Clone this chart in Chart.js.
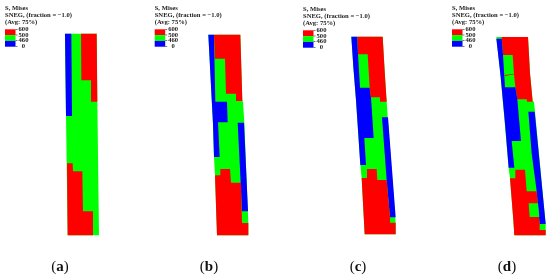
<!DOCTYPE html>
<html>
<head>
<meta charset="utf-8">
<title>S, Mises contour plots</title>
<script src="https://cdn.jsdelivr.net/npm/chart.js@4"></script>
<style>
    html, body { margin: 0; padding: 0; background: #fff; }
    #wrap { position: relative; width: 550px; height: 277px; overflow: hidden; }
    canvas { position: absolute; top: 0; filter: blur(0.35px); }
</style>
</head>
<body>
<div id="wrap">
    <canvas id="panelA" width="140" height="277" style="left:0"></canvas>
    <canvas id="panelB" width="140" height="277" style="left:140px"></canvas>
    <canvas id="panelC" width="140" height="277" style="left:280px"></canvas>
    <canvas id="panelD" width="140" height="277" style="left:410px"></canvas>
</div>
<script>
'use strict';

// подписи легенды
const headerLines = ['S, Mises', 'SNEG, (fraction = \u22121.0)', '(Avg: 75%)'];
const legendValues = ['600', '500', '460', '0'];
const captionLetters = ['a', 'b', 'c', 'd'];

const RED = '#ff0000';
const GREEN = '#00ff00';
const BLUE = '#0000ff';

// Panel (a): contour regions, x/y in plot units
const aOutline = [[195,101],[290,101],[292,305],[297,706],[203,706],[198,348]];
const aBlue = [[195,101],[214,101],[216,348],[198,348]];
const aRedTop = [[243,101],[290,101],[292,305],[275,305],[273,241],[244,241]];
const aRedBottom = [[201,490],[218,490],[219,514],[247,514],[249,634],[279,634],[279,706],[203,706]];

// Panel (b)
const bOutline = [[205,104],[301,104],[307,303],[309,305],[313,368],[325,670],[325,706],[231,706],[225,525],[222,471],[219,371]];
const bBlueLeft = [[205,104],[222,104],[226,305],[261,305],[263,367],[234,367],[239,471],[222,471],[219,371]];
const bRedTop = [[222,104],[301,104],[307,303],[290,303],[288,281],[258,281],[255,176],[225,176]];
const bBlueRight = [[293,368],[312,368],[324,634],[306,634],[302,548]];
const bRedBottom = [[225,526],[240,526],[241,507],[270,507],[273,548],[303,548],[306,669],[325,669],[325,706],[231,706]];

// Panel (c)
const cOutline = [[214,110],[308,110],[315,230],[323,350],[347,670],[347,703],[254,703],[245,535],[241,495],[228,300],[220,200]];
const cBlueLeft = [[214,110],[232,110],[234,163],[240,263],[269,263],[273,292],[281,414],[253,414],[258,495],[241,495],[228,300],[220,200]];
const cRedTop = [[232,110],[308,110],[315,230],[320,305],[301,305],[300,292],[272,292],[269,263],[263,163],[234,163]];
const cBlueRight = [[306,352],[324,352],[347,652],[330,652],[320,540]];
const cRedBottom = [[245,534],[261,534],[261,507],[290,507],[292,540],[320,540],[330,652],[330,668],[347,668],[347,703],[254,703]];

// Panel (d)
const dOutline = [[259,111],[354,111],[360,220],[368,303],[372,306],[375,335],[407,672],[407,706],[313,706],[310,660],[300,535],[296,505],[280,320],[270,210]];
const dRedTop = [[275,111],[354,111],[360,220],[368,305],[351,305],[350,298],[322,298],[316,262],[312,222],[308,165],[279,165]];
const dBlueLeft = [[259,116],[275,116],[279,165],[285,262],[316,262],[322,298],[333,423],[305,423],[313,503],[296,503],[285,370],[272,230]];
const dBlueRight = [[355,335],[374,335],[407,672],[389,672],[380,574],[365,460]];
const dRedBottom = [[300,535],[316,535],[316,509],[345,509],[350,574],[380,574],[389,673],[389,690],[407,690],[407,706],[313,706],[310,660]];
const dGreenPatch = [[356,610],[384,610],[388,651],[359,651]];
const dRedStripe = [[284,225],[313,221],[313,223],[285,228]];

// порядок: нижние области первыми, выводим перевёрнуто (Chart.js рисует первый набор сверху)
const panels = [
    { id: 'panelA', regions: [[aOutline, GREEN], [aBlue, BLUE], [aRedTop, RED], [aRedBottom, RED]] },
    { id: 'panelB', regions: [[bOutline, GREEN], [bBlueLeft, BLUE], [bRedTop, RED], [bBlueRight, BLUE], [bRedBottom, RED]] },
    { id: 'panelC', regions: [[cOutline, GREEN], [cBlueLeft, BLUE], [cRedTop, RED], [cBlueRight, BLUE], [cRedBottom, RED]] },
    { id: 'panelD', regions: [[dOutline, GREEN], [dRedTop, RED], [dBlueLeft, BLUE], [dBlueRight, BLUE], [dRedBottom, RED], [dGreenPatch, GREEN], [dRedStripe, RED]] }
];

// легенда и подпись панели (текст рисуем плагином)
const legendOffsets = [5, 14.7, 23, 42];
const legendDrops = [0, 0, 1, 0];
const captionX = [60, 69, 78, 97];

function labelsPlugin(index) {
    return {
        id: 'panelLabels',
        afterDraw(chart) {
            const ctx = chart.ctx;
            const lx = legendOffsets[index];
            const ly = legendDrops[index];
            ctx.save();
            ctx.fillStyle = '#222';
            ctx.textBaseline = 'middle';
            ctx.font = 'bold 6.6px "Liberation Serif"';
            headerLines.forEach((line, i) => ctx.fillText(line, lx, 8 + ly + i * 7.2));

            [RED, GREEN, BLUE].forEach((c, i) => {
                ctx.fillStyle = c;
                ctx.fillRect(lx, 29.3 + ly + i * 5.8, 10.5, 5.8);
            });
            ctx.fillStyle = '#222';
            ctx.textAlign = 'center';
            legendValues.forEach((v, i) => {
                ctx.fillRect(lx + 10.5, 29 + ly + i * 5.7, 2, 0.6);
                ctx.fillText(v, lx + 18.5, 29.2 + ly + i * 5.7);
            });

            // (a) — буква жирная, скобки обычные
            const cx = captionX[index];
            ctx.fillStyle = '#111';
            ctx.textBaseline = 'alphabetic';
            ctx.textAlign = 'left';
            ctx.font = '15px "Liberation Serif"';
            const paren = ctx.measureText('(').width;
            ctx.font = 'bold 15px "Liberation Serif"';
            const letter = ctx.measureText(captionLetters[index]).width;
            const start = cx - (2 * paren + letter) / 2;
            ctx.fillText(captionLetters[index], start + paren, 271);
            ctx.font = '15px "Liberation Serif"';
            ctx.fillText('(', start, 271);
            ctx.fillText(')', start + paren + letter, 271);
            ctx.restore();
        }
    };
}

panels.forEach((panel, index) => {
    new Chart(document.getElementById(panel.id), {
        type: 'scatter',
        data: {
            datasets: panel.regions.slice().reverse().map(([points, color]) => ({
                data: points.map(([x, y]) => ({ x, y })),
                showLine: true,
                fill: 'shape',
                backgroundColor: color,
                borderColor: color,
                borderWidth: 0,
                pointRadius: 0,
                tension: 0
            }))
        },
        options: {
            responsive: false,
            animation: false,
            devicePixelRatio: 1,
            layout: { padding: 0 },
            plugins: {
                legend: { display: false },
                tooltip: { enabled: false }
            },
            scales: {
                x: { type: 'linear', min: 0, max: 420, display: false },
                y: { type: 'linear', min: 0, max: 831, reverse: true, display: false }
            }
        },
        plugins: [labelsPlugin(index)]
    });
});
</script>
</body>
</html>
